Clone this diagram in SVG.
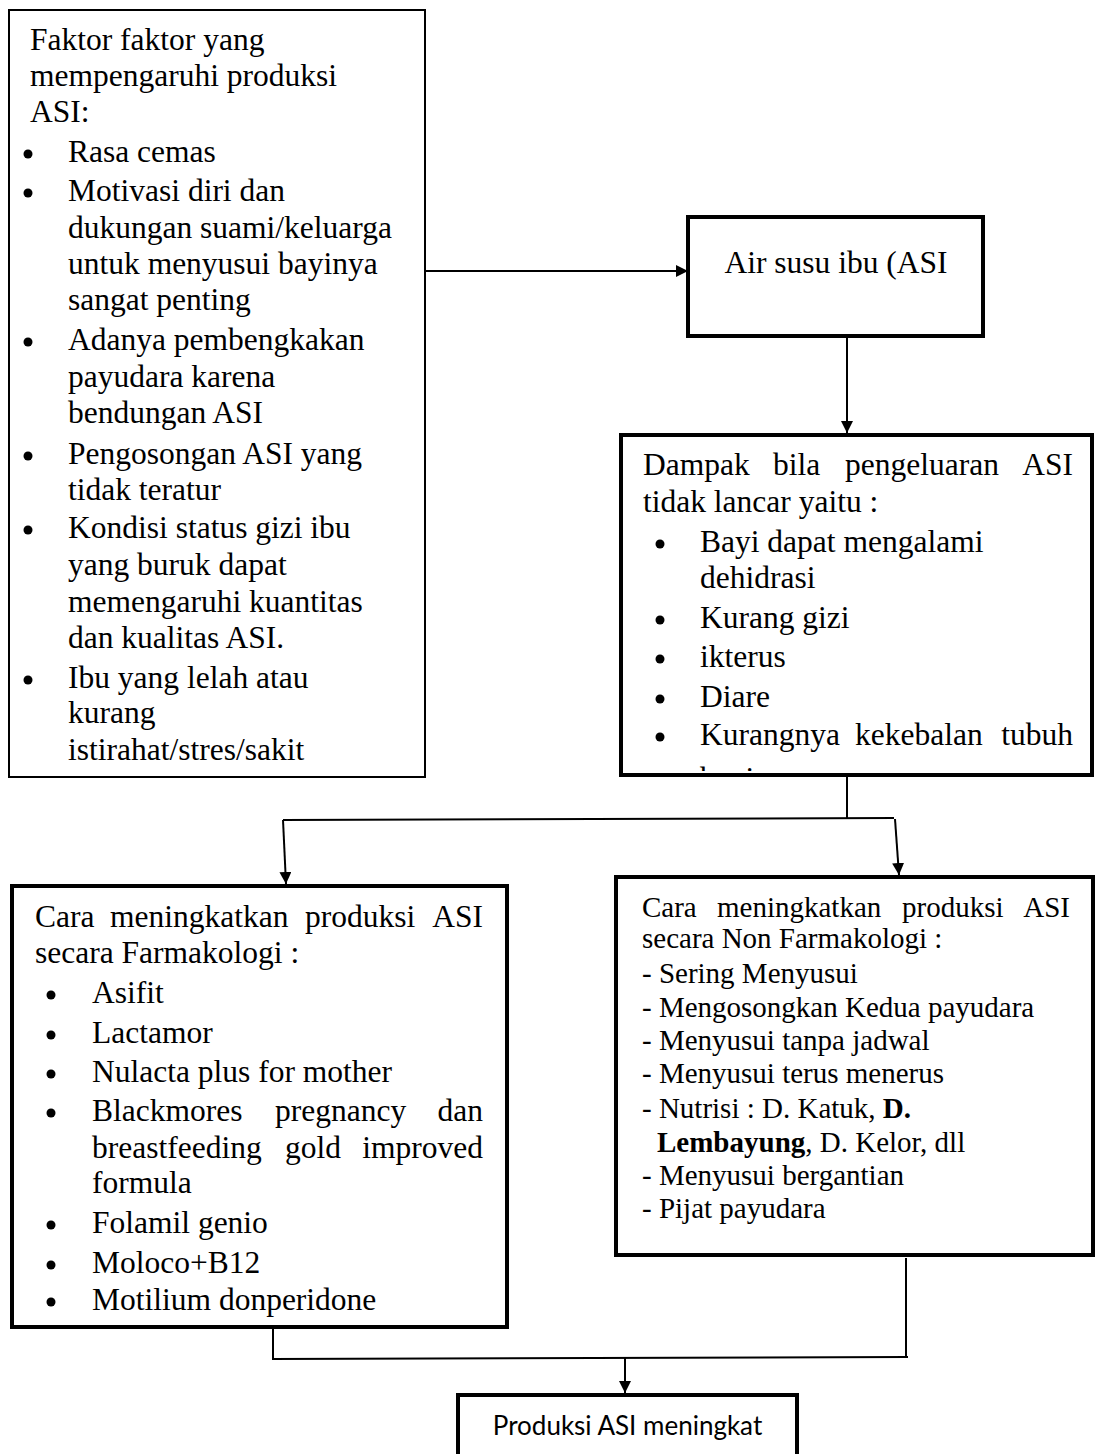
<svg xmlns="http://www.w3.org/2000/svg" width="1095" height="1454" viewBox="0 0 1095 1454">
<style>
.t{font-family:"Liberation Serif","Times New Roman",serif;font-size:31.5px;fill:#000}
.s{font-size:29px}
.bd{font-weight:bold}
.m{text-anchor:middle}
.e{text-anchor:end}
.box{fill:#fff;stroke:#000;stroke-width:4}
.thin{fill:#fff;stroke:#000;stroke-width:2}
.c{fill:none;stroke:#000;stroke-width:2}
.bu{fill:#000}
.sans{font-family:Lato,"Liberation Sans",sans-serif;font-size:26px;fill:#000}
</style>
<defs>
<marker id="ah" markerUnits="userSpaceOnUse" markerWidth="12" markerHeight="12" refX="12" refY="6" orient="auto">
<path d="M0,0 L12,6 L0,12 z" fill="#000"/>
</marker>
<clipPath id="dclip"><rect x="623" y="437" width="467" height="334"/></clipPath>
</defs>
<rect width="1095" height="1454" fill="#fff"/>

<g id="faktor">
<rect class="thin" x="9" y="10" width="416" height="767"/>
<text class="t" x="30" y="50">Faktor faktor yang</text>
<text class="t" x="30" y="86">mempengaruhi produksi</text>
<text class="t" x="30" y="122">ASI:</text>
<circle class="bu" cx="28" cy="154" r="4.5"/><text class="t" x="68" y="162">Rasa cemas</text>
<circle class="bu" cx="28" cy="193" r="4.5"/><text class="t" x="68" y="201">Motivasi diri dan</text>
<text class="t" x="68" y="238">dukungan suami/keluarga</text>
<text class="t" x="68" y="274">untuk menyusui bayinya</text>
<text class="t" x="68" y="310">sangat penting</text>
<circle class="bu" cx="28" cy="342" r="4.5"/><text class="t" x="68" y="350">Adanya pembengkakan</text>
<text class="t" x="68" y="387">payudara karena</text>
<text class="t" x="68" y="423">bendungan ASI</text>
<circle class="bu" cx="28" cy="456" r="4.5"/><text class="t" x="68" y="464">Pengosongan ASI yang</text>
<text class="t" x="68" y="500">tidak teratur</text>
<circle class="bu" cx="28" cy="530" r="4.5"/><text class="t" x="68" y="538">Kondisi status gizi ibu</text>
<text class="t" x="68" y="575">yang buruk dapat</text>
<text class="t" x="68" y="612">memengaruhi kuantitas</text>
<text class="t" x="68" y="648">dan kualitas ASI.</text>
<circle class="bu" cx="28" cy="680" r="4.5"/><text class="t" x="68" y="688">Ibu yang lelah atau</text>
<text class="t" x="68" y="723">kurang</text>
<text class="t" x="68" y="760">istirahat/stres/sakit</text>
</g>

<g id="asi">
<rect class="box" x="688" y="217" width="295" height="119"/>
<text class="t m" x="836" y="273">Air susu ibu (ASI</text>
</g>

<g id="dampak">
<rect class="box" x="621" y="435" width="471" height="340"/>
<text class="t" x="643" y="475">Dampak</text>
<text class="t" x="773" y="475">bila</text>
<text class="t" x="845" y="475">pengeluaran</text>
<text class="t e" x="1073" y="475">ASI</text>
<text class="t" x="643" y="512">tidak lancar yaitu :</text>
<circle class="bu" cx="660" cy="544" r="4.5"/><text class="t" x="700" y="552">Bayi dapat mengalami</text>
<text class="t" x="700" y="588">dehidrasi</text>
<circle class="bu" cx="660" cy="620" r="4.5"/><text class="t" x="700" y="628">Kurang gizi</text>
<circle class="bu" cx="660" cy="659" r="4.5"/><text class="t" x="700" y="667">ikterus</text>
<circle class="bu" cx="660" cy="699" r="4.5"/><text class="t" x="700" y="707">Diare</text>
<circle class="bu" cx="660" cy="737" r="4.5"/><text class="t" x="700" y="745">Kurangnya</text>
<text class="t" x="855" y="745">kekebalan</text>
<text class="t e" x="1073" y="745">tubuh</text>
<text class="t" x="700" y="789" clip-path="url(#dclip)">bayi</text>
</g>

<g id="farmakologi">
<rect class="box" x="12" y="886" width="495" height="441"/>
<text class="t" x="35" y="927">Cara</text>
<text class="t" x="110" y="927">meningkatkan</text>
<text class="t" x="305" y="927">produksi</text>
<text class="t e" x="483" y="927">ASI</text>
<text class="t" x="35" y="963">secara Farmakologi :</text>
<circle class="bu" cx="51" cy="995" r="4.5"/><text class="t" x="92" y="1003">Asifit</text>
<circle class="bu" cx="51" cy="1035" r="4.5"/><text class="t" x="92" y="1043">Lactamor</text>
<circle class="bu" cx="51" cy="1074" r="4.5"/><text class="t" x="92" y="1082">Nulacta plus for mother</text>
<circle class="bu" cx="51" cy="1113" r="4.5"/><text class="t" x="92" y="1121">Blackmores</text>
<text class="t" x="275" y="1121">pregnancy</text>
<text class="t e" x="483" y="1121">dan</text>
<text class="t" x="92" y="1158">breastfeeding</text>
<text class="t" x="285" y="1158">gold</text>
<text class="t e" x="483" y="1158">improved</text>
<text class="t" x="92" y="1193">formula</text>
<circle class="bu" cx="51" cy="1225" r="4.5"/><text class="t" x="92" y="1233">Folamil genio</text>
<circle class="bu" cx="51" cy="1265" r="4.5"/><text class="t" x="92" y="1273">Moloco+B12</text>
<circle class="bu" cx="51" cy="1302" r="4.5"/><text class="t" x="92" y="1310">Motilium donperidone</text>
</g>

<g id="nonfarmakologi">
<rect class="box" x="616" y="877" width="477" height="378"/>
<text class="t s" x="642" y="917">Cara</text>
<text class="t s" x="717" y="917">meningkatkan</text>
<text class="t s" x="902" y="917">produksi</text>
<text class="t s e" x="1070" y="917">ASI</text>
<text class="t s" x="642" y="948">secara Non Farmakologi :</text>
<text class="t s" x="642" y="983">- Sering Menyusui</text>
<text class="t s" x="642" y="1017">- Mengosongkan Kedua payudara</text>
<text class="t s" x="642" y="1050">- Menyusui tanpa jadwal</text>
<text class="t s" x="642" y="1083">- Menyusui terus menerus</text>
<text class="t s" x="642" y="1118">- Nutrisi : D. Katuk, <tspan class="bd">D.</tspan></text>
<text class="t s" x="657" y="1152"><tspan class="bd">Lembayung</tspan>, D. Kelor, dll</text>
<text class="t s" x="642" y="1185">- Menyusui bergantian</text>
<text class="t s" x="642" y="1218">- Pijat payudara</text>
</g>

<g id="produksi">
<rect class="box" x="458" y="1395" width="339" height="90"/>
<text class="sans m" x="627.5" y="1435">Produksi ASI meningkat</text>
</g>

<g id="connectors">
<line class="c" x1="425" y1="271" x2="688" y2="271" marker-end="url(#ah)"/>
<line class="c" x1="847" y1="338" x2="847" y2="433" marker-end="url(#ah)"/>
<line class="c" x1="847" y1="777" x2="847" y2="819"/>
<line class="c" x1="283" y1="820" x2="894" y2="818"/>
<line class="c" x1="283" y1="820" x2="286" y2="884" marker-end="url(#ah)"/>
<line class="c" x1="895" y1="819" x2="899" y2="875" marker-end="url(#ah)"/>
<line class="c" x1="273" y1="1329" x2="273" y2="1359"/>
<line class="c" x1="272" y1="1359" x2="908" y2="1357"/>
<line class="c" x1="906" y1="1258" x2="906" y2="1358"/>
<line class="c" x1="625" y1="1358" x2="625" y2="1393" marker-end="url(#ah)"/>
</g>
</svg>
